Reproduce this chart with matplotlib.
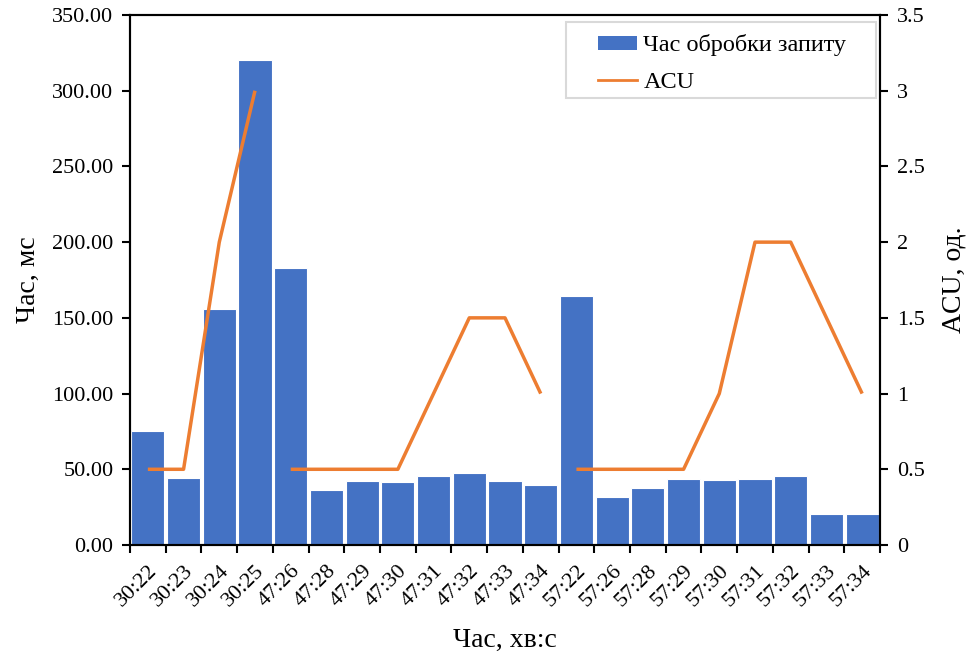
import matplotlib
matplotlib.use("Agg")
import matplotlib.pyplot as plt
from matplotlib.ticker import FormatStrFormatter, FuncFormatter
from matplotlib.patches import Rectangle, Patch
from matplotlib.lines import Line2D
import numpy as np

categories = ["30:22", "30:23", "30:24", "30:25", "47:26", "47:28", "47:29", "47:30",
              "47:31", "47:32", "47:33", "47:34", "57:22", "57:26", "57:28", "57:29",
              "57:30", "57:31", "57:32", "57:33", "57:34"]
processing_time = [75, 44, 156, 320, 183, 36.5, 42.3, 41.6, 45.6, 47.3, 42.3, 39.6,
                   164.7, 31.5, 37.9, 43.6, 42.9, 43.6, 45.6, 20.7, 20.7]
acu = [0.5, 0.5, 2, 3, 0.5, 0.5, 0.5, 0.5, 1.0, 1.5, 1.5, 1.0,
       0.5, 0.5, 0.5, 0.5, 1.0, 2, 2, 1.5, 1.0]

plt.rcParams['font.family'] = ['Liberation Serif', 'DejaVu Serif']

W, H = 966, 659
fig = plt.figure(figsize=(W / 100, H / 100), dpi=100)
ax = fig.add_axes([130/W, 1-545/H, 750/W, 530/H])
ax2 = ax.twinx()

bar_color = "#4472C4"
line_color = "#ED7D31"

x = np.arange(len(categories))
ax.bar(x, processing_time, width=0.93, color=bar_color, edgecolor="white",
       linewidth=0.8, zorder=2)

groups = [c.split(":")[0] for c in categories]
for g in dict.fromkeys(groups):
    idx = [i for i, gg in enumerate(groups) if gg == g]
    ax2.plot(idx, [acu[i] for i in idx], color=line_color, linewidth=2.5,
             solid_capstyle="butt")

ax.set_xlim(-0.5, len(categories) - 0.5)
ax.set_ylim(0, 350)
ax2.set_ylim(0, 3.5)
ax.set_yticks(np.arange(0, 351, 50))
ax.yaxis.set_major_formatter(FormatStrFormatter("%.2f"))
ax2.set_yticks(np.arange(0, 3.51, 0.5))
ax2.yaxis.set_major_formatter(FuncFormatter(lambda v, p: f"{v:g}"))

ax.set_xticks(x)
ax.set_xticklabels(categories, rotation=45, ha="right", rotation_mode="anchor")
ax.set_xticks(np.arange(-0.5, len(categories), 1.0), minor=True)
ax.tick_params(axis="x", which="major", length=0, pad=12, labelsize=16)
ax.tick_params(axis="x", which="minor", length=6, width=1.5, direction="out")
ax.tick_params(axis="y", length=6, width=1.5, direction="out", labelsize=16, pad=6)
ax2.tick_params(axis="y", length=6, width=1.5, direction="out", labelsize=16, pad=6)

for a in (ax, ax2):
    for s in a.spines.values():
        s.set_linewidth(1.5)
        s.set_color("black")

ax.set_ylabel("Час, мс", fontsize=20, labelpad=8)
ax2.set_ylabel("ACU, од.", fontsize=20, labelpad=12)
ax.set_xlabel("Час, хв:с", fontsize=20, labelpad=12)

# legend frame
frame = Rectangle((566/W, 1-98/H), (876-566)/W, (98-22)/H, transform=fig.transFigure,
                  facecolor="white", edgecolor="#D9D9D9", linewidth=1.5, zorder=5)
fig.add_artist(frame)
handles = [Patch(facecolor=bar_color, edgecolor="none"),
           Line2D([], [], color=line_color, linewidth=2)]
leg = fig.legend(handles, ["Час обробки запиту", "ACU"], loc="upper left",
                 bbox_to_anchor=(579/W, 1-15/H), fontsize=17.5, frameon=False,
                 handlelength=1.6, handleheight=0.5, handletextpad=0.25,
                 borderpad=0.3, labelspacing=0.65)
leg.set_zorder(6)

fig.savefig("out.png", dpi=100)
